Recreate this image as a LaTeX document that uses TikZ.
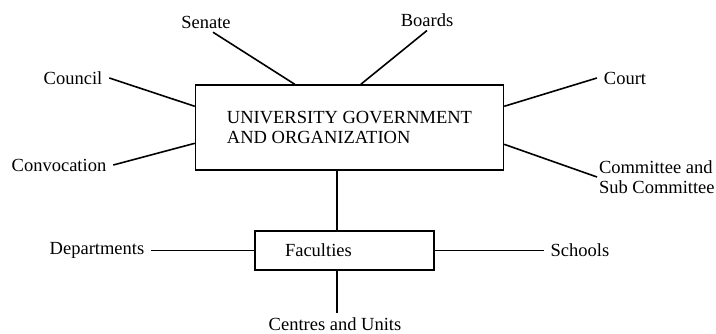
\documentclass[tikz,border=0pt]{standalone}
\usepackage{fontspec}
\setmainfont{Liberation Serif}
\usetikzlibrary{positioning,calc}
\tikzset{
  caja/.style={draw,line width=1.4pt,font=\fontsize{18.5}{20}\selectfont,
               align=left,inner ysep=4pt},
  etiq/.style={font=\fontsize{18.5}{20}\selectfont,inner sep=2pt,outer xsep=5pt,
               outer ysep=2pt,align=left},
  linea/.style={line width=1.6pt},
}

\begin{document}
\begin{tikzpicture}[x=1pt,y=-1pt]
    \useasboundingbox (0,0) rectangle (716,333);
    % cajas
    \node[caja,minimum height=85pt,minimum width=308pt] (uni) at (349.5,127.5)
      {UNIVERSITY GOVERNMENT\\AND ORGANIZATION};
    \node[caja,minimum height=39pt,text width=119pt,inner xsep=30pt] (fac) at (344.5,250.5) {Faculties};
    % etiquetas
    \node[etiq] (senate) at (206,22) {Senate};
    \node[etiq] (boards) at (427,20) {Boards};
    \node[etiq] (council) at (73,78) {Council};
    \node[etiq] (court) at (625,78) {Court};
    \node[etiq] (convo) at (59,165) {Convocation};
    \node[etiq,anchor=west,outer xsep=0pt] (comite) at (597,177) {Committee and\\Sub Committee};
    \node[etiq] (dep) at (97,250.5) {Departments};
    \node[etiq] (schools) at (580,250.5) {Schools};
    \node[etiq] (centres) at (335,324) {Centres and Units};
    % lineas
    \draw[linea] ([xshift=7pt]senate.south) -- ([xshift=100pt]uni.north west);
    \draw[linea] (boards.south) -- ([xshift=166pt]uni.north west);
    \draw[linea] (council.east) -- ([yshift=-22pt]uni.north west);
    \draw[linea] (court.west) -- ([yshift=-22pt]uni.north east);
    \draw[linea] (convo.east) -- ([yshift=-59pt]uni.north west);
    \draw[linea] (comite.west) -- ([yshift=-60pt]uni.north east);
    \foreach \i/\j in {dep.east/fac.west,fac.east/schools.west} \draw[linea] (\i) -- (\j);
    \draw[linea] ([xshift=-7.5pt]fac.north) -- ([xshift=-7.5pt]fac.north |- uni.south);
    \draw[linea] ([xshift=-7.5pt]fac.south) -- ([xshift=-7.5pt]fac.south |- centres.north);
\end{tikzpicture}
\end{document}
